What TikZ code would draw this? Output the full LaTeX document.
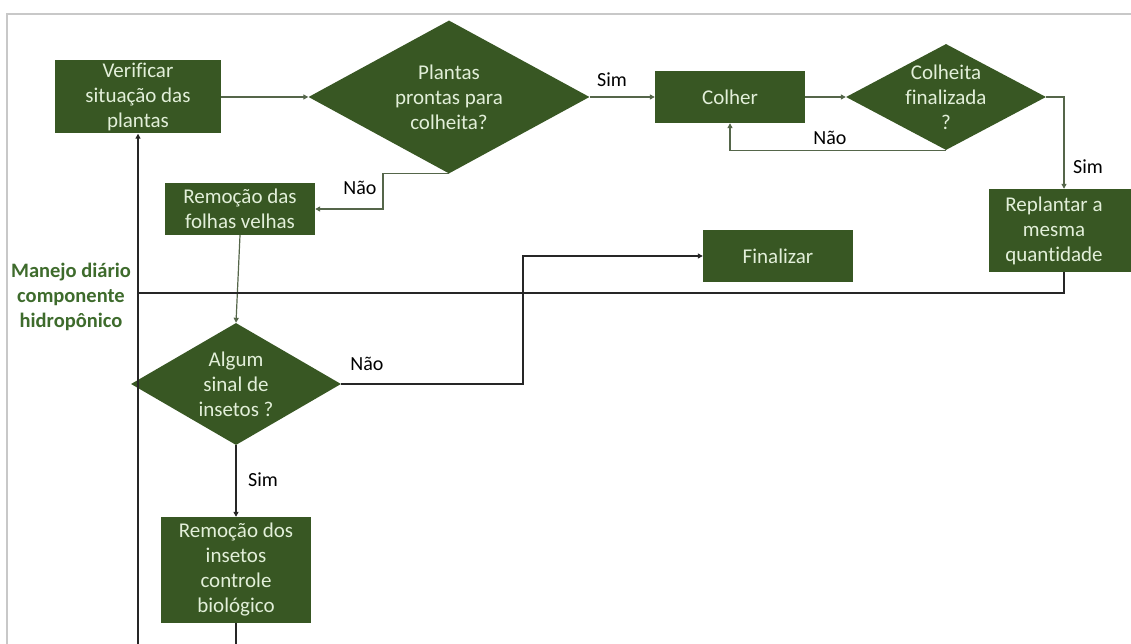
\documentclass[tikz,border=0pt]{standalone}
\usepackage{fontspec}
\setmainfont{Carlito}[Ligatures=NoCommon]
\usepackage{xcolor}
\usepackage{tikz}
\usetikzlibrary{
  arrows.meta,
  positioning,
  shapes.geometric
}
\definecolor{hgreen} {HTML}{385723}
\definecolor{hlight} {HTML}{E2EFD9}
\definecolor{hline}  {HTML}{55664A}
\definecolor{hlabel} {HTML}{3E6B2C}
\definecolor{hframe} {HTML}{C8C8C8}

\begin{document}
\begin{tikzpicture}[
  x=1pt, y=-1pt,
  every node/.style={font=\fontsize{21}{25}\selectfont},
  box/.style={rectangle, fill=hgreen, text=hlight, align=center,
              inner sep=0pt, minimum width=150pt, minimum height=52pt},
  dia/.style={diamond, fill=hgreen, inner sep=0pt},
  txt/.style={text=hlight, align=center, inner sep=0pt},
  lbl/.style={font=\fontsize{20}{24}\selectfont, inner sep=0pt},
  arr/.style={-{Triangle[length=5pt,width=5pt]}, draw=hline, line width=1.2pt},
  arrk/.style={arr, draw=black!85},
  lnk/.style={draw=black!85, line width=1.2pt},
]
\useasboundingbox (0,0) rectangle (1131,644);
\clip (0,0) rectangle (1131,644);
\draw[hframe, line width=1.5pt] (7,644) -- (7,14) -- (1131,14);

% caixas e decisoes
\node[box, minimum width=166pt, minimum height=73pt] (verif) at (138,97)
  {Verificar\\situação das\\plantas};
\node[dia, minimum width=281pt, minimum height=153pt] (pronta) at (449,97) {};
\node[txt] (pronta-t) at (pronta) {Plantas\\prontas para\\colheita?};
\node[box] (colher) at (730,97) {Colher};
\node[dia, minimum width=200pt, minimum height=106pt] (fin) at (946,97) {};
\node[txt] (fin-t) at (fin) {Colheita\\finalizada\\?};
\node[box, minimum height=83pt] (replant) at (1064,230.5) {};
\node[txt] (replant-t) at (1054,231) {Replantar a\\mesma\\quantidade};
\node[box] (fim) at (778,256) {Finalizar};
\node[box] (folhas) at (240,209) {Remoção das\\folhas velhas};
\node[dia, minimum width=210pt, minimum height=122pt] (sinal) at (236,384) {};
\node[txt] (sinal-t) at (sinal) {Algum\\sinal de\\insetos ?};
\node[box, minimum height=106pt] (remove) at (236,570)
  {Remoção dos\\insetos\\controle\\biológico};

\node[font=\bfseries\fontsize{20.5}{25}\selectfont, text=hlabel, align=center]
  (titulo) at (71,297) {Manejo diário\\componente\\hidropônico};

% ligacoes
\coordinate (k1) at (383,209);
\coordinate (k2) at (523,384);
\coordinate (k3) at (236,680);
\coordinate (k4) at (138,293);

\draw[arr] (verif) -- (pronta);
\draw[arr] (pronta) -- (colher);
\draw[arr] (colher) -- (fin);
\draw[arr] (fin.south) -| (colher.south);
\draw[arr] (fin.east) -| (replant.north);
\draw[arr] (pronta.south) -| (k1) -- (folhas.east);
\draw[arr] (folhas.south) -- (sinal.north);
\draw[arrk] (sinal.east) -- (k2) |- (fim.west);
\draw[arrk] (sinal.south) -- (remove.north);
\draw[arrk] (remove.south) -- (k3) -| (verif.south);
\draw[lnk] (replant.south) |- (k4);

\node[lbl] (sim1) at (612,80)  {Sim};
\node[lbl] (nao1) at (830,138) {Não};
\node[lbl] (sim2) at (1088,167) {Sim};
\node[lbl] (nao2) at (360,188) {Não};
\node[lbl] (nao3) at (367,364) {Não};
\node[lbl] (sim3) at (263,480) {Sim};
\end{tikzpicture}
\end{document}
